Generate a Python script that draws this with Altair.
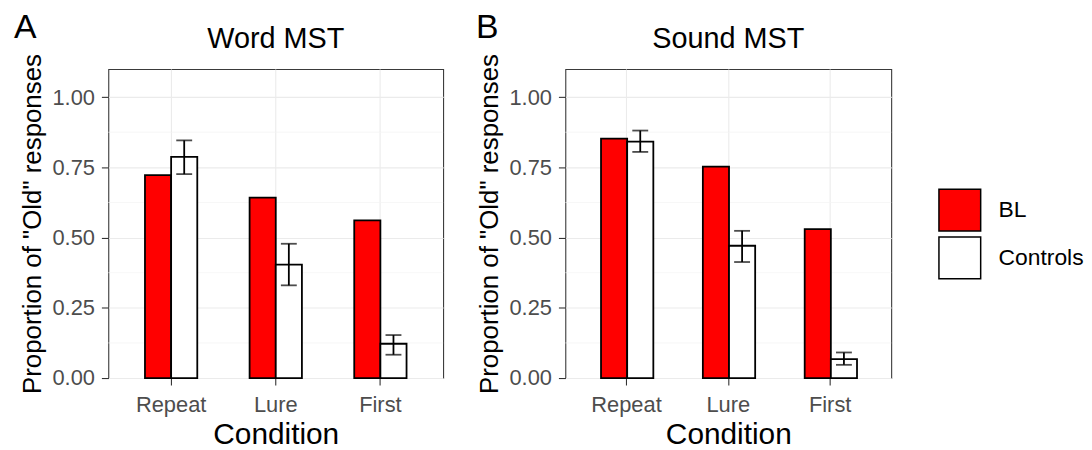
import altair as alt
import pandas as pd

FONT = "Liberation Sans, Arial, sans-serif"

conditions = ["Repeat", "Lure", "First"]
groups = ["BL", "Controls"]
group_colors = ["#FF0000", "#FFFFFF"]

word_bl = [0.722, 0.642, 0.561]
word_ctrl = [0.787, 0.404, 0.122]
word_lo = [0.726, 0.330, 0.083]
word_hi = [0.846, 0.478, 0.153]

sound_bl = [0.852, 0.753, 0.530]
sound_ctrl = [0.842, 0.471, 0.067]
sound_lo = [0.805, 0.413, 0.047]
sound_hi = [0.881, 0.524, 0.091]

major_breaks = [0.0, 0.25, 0.5, 0.75, 1.0]
minor_breaks = [0.125, 0.375, 0.625, 0.875]
y_limits = [0.0, 1.1]


def panel(title, letter, bl, ctrl, lo, hi, width, letter_x):
    bars_df = pd.DataFrame({
        "Condition": conditions * 2,
        "Group": ["BL"] * 3 + ["Controls"] * 3,
        "val": bl + ctrl,
    })
    err_df = pd.DataFrame({
        "Condition": conditions,
        "Group": ["Controls"] * 3,
        "lo": lo,
        "hi": hi,
    })
    minor_df = pd.DataFrame({"val": minor_breaks})
    letter_df = pd.DataFrame({"letter": [letter]})
    title_df = pd.DataFrame({"title": [title]})

    x_axis = alt.Axis(
        title="Condition", grid=True, bandPosition=0.5, domain=False,
        labelAngle=0, labelPadding=10, titlePadding=4, titleFontSize=30,
    )
    y_axis = alt.Axis(
        title='Proportion of "Old" responses', values=major_breaks, format=".2f",
        grid=True, domain=False, labelPadding=7, titlePadding=6, titleFontSize=26,
    )
    xs = alt.Scale(domain=conditions, paddingInner=0.5, paddingOuter=0.35)
    ys = alt.Scale(domain=y_limits, nice=False, zero=False)
    xo = alt.XOffset("Group:N", scale=alt.Scale(domain=groups, paddingInner=0, paddingOuter=0))

    def X():
        return alt.X("Condition:N", sort=conditions, scale=xs, axis=x_axis)

    def Y(field):
        return alt.Y(f"{field}:Q", scale=ys, axis=y_axis)

    minor = alt.Chart(minor_df).mark_rule(color="#F3F3F3", strokeWidth=0.7).encode(y=Y("val"))

    bars = alt.Chart(bars_df).mark_bar(stroke="black", strokeWidth=1.8).encode(
        x=X(), xOffset=xo, y=Y("val"),
        fill=alt.Fill("Group:N", scale=alt.Scale(domain=groups, range=group_colors),
                      legend=alt.Legend(title=None)),
    )
    rules = alt.Chart(err_df).mark_rule(color="black", strokeWidth=1.8).encode(
        x=X(), xOffset=xo, y=Y("lo"), y2="hi:Q")
    cap_lo = alt.Chart(err_df).mark_tick(orient="horizontal", size=16, thickness=1.8, color="black").encode(
        x=X(), xOffset=xo, y=Y("lo"))
    cap_hi = alt.Chart(err_df).mark_tick(orient="horizontal", size=16, thickness=1.8, color="black").encode(
        x=X(), xOffset=xo, y=Y("hi"))
    letter_mark = alt.Chart(letter_df).mark_text(
        align="left", baseline="alphabetic", fontSize=34, font=FONT, color="black"
    ).encode(x=alt.value(letter_x), y=alt.value(-31), text="letter:N")
    title_mark = alt.Chart(title_df).mark_text(
        align="center", baseline="alphabetic", fontSize=29, font=FONT, color="black"
    ).encode(x=alt.value(width / 2), y=alt.value(-21), text="title:N")

    return alt.layer(minor, bars, rules, cap_lo, cap_hi, letter_mark, title_mark).properties(
        width=width, height=311,
    )


pA = panel("Word MST", "A", word_bl, word_ctrl, word_lo, word_hi, 337, -95)
pB = panel("Sound MST", "B", sound_bl, sound_ctrl, sound_lo, sound_hi, 328, -90)

chart = alt.hconcat(pA, pB, spacing=31).properties(
    padding={"left": 5, "top": 1, "right": 0, "bottom": 0}
).configure_view(
    stroke="#3A3A3A", strokeWidth=1.1
).configure_axis(
    labelFont=FONT, labelFontSize=22, labelColor="#4D4D4D",
    titleFont=FONT, titleColor="black", titleFontWeight="normal",
    tickColor="#333333", tickSize=7, tickWidth=1.1,
    gridColor="#EBEBEB", gridWidth=1.1,
).configure_legend(
    orient="none", legendX=835, legendY=120,
    symbolType="square", symbolSize=1764, symbolStrokeColor="black",
    symbolStrokeWidth=1.5, symbolOpacity=1, rowPadding=0, padding=0,
    labelFont=FONT, labelFontSize=23, labelColor="black", labelOffset=17,
)

chart.save("out.html", embed_options={"renderer": "svg", "actions": False})
